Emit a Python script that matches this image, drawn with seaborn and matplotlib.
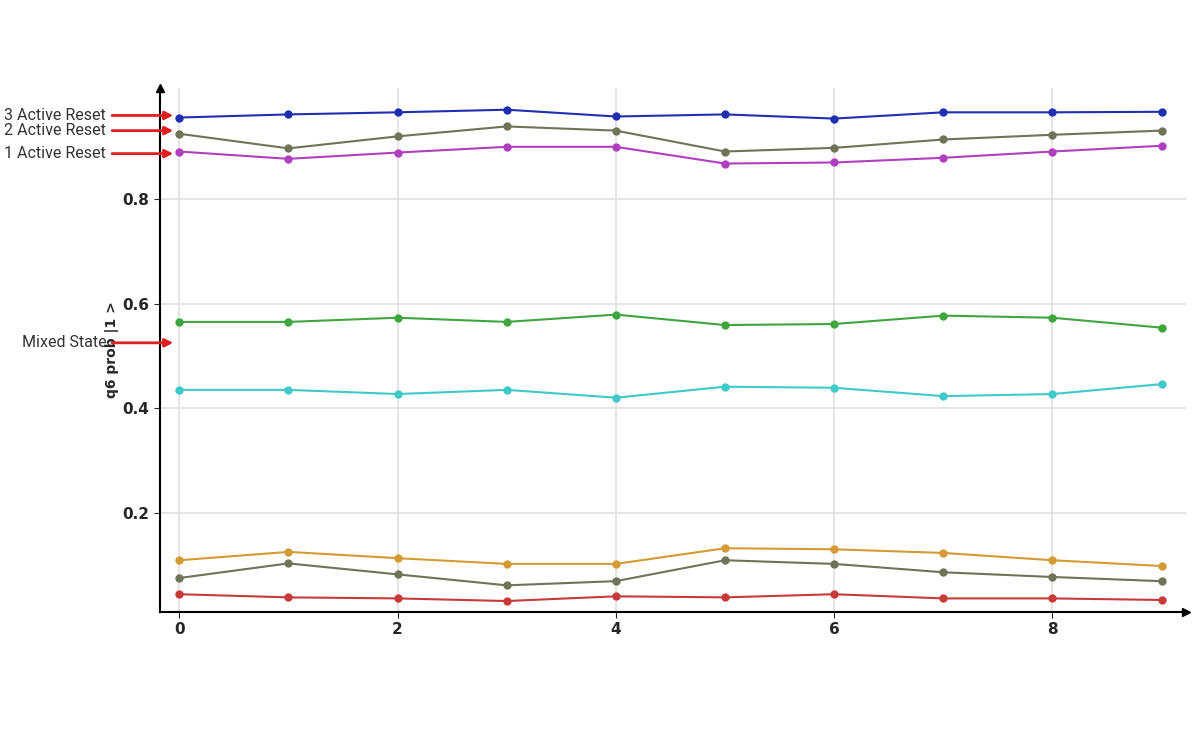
import matplotlib
matplotlib.use("Agg")
import matplotlib.pyplot as plt
import seaborn as sns
import pandas as pd

x = list(range(10))
blue = [0.956,0.962,0.966,0.971,0.958,0.962,0.954,0.966,0.966,0.967]
gray_top = [0.925,0.897,0.920,0.939,0.931,0.891,0.898,0.914,0.923,0.931]
magenta = [0.891,0.877,0.889,0.900,0.900,0.868,0.870,0.879,0.891,0.902]
green = [0.565,0.565,0.573,0.565,0.579,0.559,0.561,0.577,0.573,0.554]
cyan = [0.435,0.435,0.427,0.435,0.420,0.441,0.439,0.423,0.427,0.446]
orange = [0.109,0.125,0.113,0.102,0.102,0.132,0.130,0.123,0.109,0.098]
olive_low = [0.075,0.103,0.082,0.061,0.069,0.109,0.102,0.086,0.077,0.069]
red = [0.044,0.038,0.036,0.031,0.040,0.038,0.044,0.036,0.036,0.033]

series = [(blue,"#1f2fb0"),(gray_top,"#6f7358"),(magenta,"#b03fbf"),(green,"#3fa63f"),
          (cyan,"#3fc9c9"),(orange,"#d49a33"),(olive_low,"#6f7358"),(red,"#c83a3a")]
labels = [("3 Active Reset",0.960),("2 Active Reset",0.931),("1 Active Reset",0.887),("Mixed State",0.525)]

sns.set_style("white")
fig = plt.figure(figsize=(12,7.5), dpi=100)
ax = fig.add_axes([0.133,0.184,0.855,0.699])
for i,(vals,c) in enumerate(series):
    df = pd.DataFrame({"x":x,"y":vals})
    sns.lineplot(data=df,x="x",y="y",ax=ax,color=c,marker="o",markersize=6,
                 markeredgewidth=0,linewidth=1.5)
ax.set_xlim(-0.18,9.22)
ax.set_ylim(0.01,1.013)
ax.set_xticks([0,2,4,6,8])
ax.set_yticks([0.2,0.4,0.6,0.8])
ax.set_yticklabels(["0.2","0.4","0.6","0.8"])
ax.grid(True,color="#e0e0e0",linewidth=1.2)
ax.tick_params(labelsize=11,length=4,direction="out",left=True,bottom=True)
for t in ax.get_xticklabels()+ax.get_yticklabels():
    t.set_fontweight("bold")
ax.set_xlabel("")
ax.set_ylabel("q6 prob |1 >",fontweight="bold",fontsize=10,labelpad=2)
for s in ["top","right"]:
    ax.spines[s].set_visible(False)
for s in ["left","bottom"]:
    ax.spines[s].set_color("black"); ax.spines[s].set_linewidth(1.5)
ax.plot(1,0,">k",transform=ax.transAxes,clip_on=False,markersize=6)
ax.plot(0,1,"^k",transform=ax.transAxes,clip_on=False,markersize=6)
for txt,yv in labels:
    ax.annotate("",xy=(0.016,yv),xycoords=("axes fraction","data"),
                xytext=(-0.049,yv),textcoords=("axes fraction","data"),
                arrowprops=dict(arrowstyle="-|>",color="#e02020",lw=2,mutation_scale=12),
                annotation_clip=False)
    ax.text(-0.052,yv,txt,transform=ax.get_yaxis_transform(),ha="right",va="center",
            fontsize=11.5,color="#333333",family=["Liberation Sans Narrow","Roboto"],
            fontstretch="condensed")
fig.savefig("out.png")
